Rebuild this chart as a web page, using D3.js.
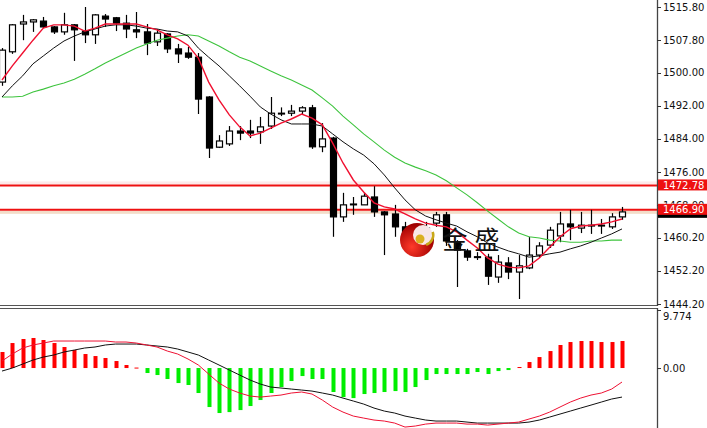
<!DOCTYPE html>
<html><head><meta charset="utf-8">
<script src="https://cdn.jsdelivr.net/npm/d3@7"></script>
<style>
body{margin:0;background:#fff;}
svg{display:block;}
text{font-family:"DejaVu Sans",sans-serif;font-size:10px;}
</style>
</head><body>
<svg id="c" width="707" height="428"></svg>
<script>
// ---- data ----
const open=[1497.7,1505.0,1511.7,1512.2,1512.4,1511.0,1509.8,1511.5,1510.0,1509.1,
1513.6,1513.2,1511.9,1510.3,1509.8,1507.4,1509.3,1505.7,1504.7,1503.7,
1494.1,1482.0,1482.8,1485.9,1485.9,1485.7,1487.1,1490.2,1490.2,1490.7,
1491.5,1482.1,1484.2,1465.2,1468.1,1468.1,1470.0,1466.4,1465.9,1462.8,
1459.6,1462.5,1463.7,1465.7,1459.1,1457.0,1455.6,1455.5,1450.7,1454.1,
1451.9,1452.9,1456.0,1458.4,1460.6,1463.5,1462.5,1463.2,1463.2,1462.8,1465.2];
const high=[1505.9,1511.7,1513.9,1512.9,1513.4,1511.2,1514.4,1511.7,1515.8,1514.1,
1514.1,1513.4,1513.9,1514.6,1511.7,1510.5,1509.5,1506.9,1506.2,1504.7,
1494.3,1484.9,1487.1,1487.1,1488.6,1489.3,1494.1,1491.6,1492.2,1491.9,
1492.2,1487.8,1484.5,1471.0,1470.0,1471.0,1472.6,1466.6,1468.1,1464.0,
1463.0,1464.0,1466.4,1466.4,1459.6,1457.5,1456.7,1456.3,1456.0,1455.5,
1456.0,1460.4,1459.1,1462.8,1466.4,1466.9,1466.4,1466.9,1464.7,1466.1,1467.6];
const low=[1496.8,1504.5,1507.8,1509.8,1510.7,1509.3,1509.1,1502.8,1507.1,1506.9,
1511.0,1510.0,1508.3,1508.3,1504.2,1506.4,1504.7,1502.3,1503.3,1490.0,
1479.4,1481.8,1482.3,1483.7,1484.2,1482.8,1486.4,1489.5,1489.5,1490.0,
1481.6,1480.8,1460.4,1464.0,1465.7,1468.1,1465.2,1456.0,1460.4,1459.6,
1458.9,1460.6,1462.8,1458.2,1448.3,1454.6,1454.8,1448.8,1449.3,1450.2,
1445.4,1452.6,1455.3,1457.7,1459.1,1459.6,1461.3,1461.1,1461.1,1462.3,1464.5];
const close=[1505.4,1511.5,1512.2,1512.7,1511.0,1509.8,1511.5,1510.3,1509.1,1513.9,
1512.9,1511.9,1510.5,1509.8,1507.1,1509.5,1505.7,1504.5,1503.7,1493.6,
1481.8,1483.5,1485.9,1485.4,1485.4,1486.9,1490.2,1490.0,1490.7,1491.5,
1482.1,1484.0,1465.2,1468.1,1468.3,1470.2,1466.4,1465.7,1462.8,1460.8,
1462.5,1461.5,1465.7,1459.4,1457.2,1455.5,1455.4,1450.9,1454.3,1451.9,
1453.4,1456.0,1458.2,1462.0,1463.5,1462.8,1463.2,1463.0,1463.0,1465.2,1466.4];

const maFast=[1498.2,1501.6,1504.7,1507.8,1510.7,1511.5,1511.5,1511.2,1510.0,1510.7,
1511.7,1511.7,1511.7,1511.7,1511.0,1510.3,1509.1,1508.1,1506.6,1503.5,
1497.7,1493.4,1489.8,1486.9,1484.7,1485.4,1486.6,1487.8,1488.8,1490.0,
1489.0,1487.4,1483.0,1478.2,1474.1,1471.2,1468.6,1467.6,1467.1,1465.9,
1464.7,1463.7,1463.2,1462.8,1461.6,1459.6,1457.7,1455.3,1453.8,1453.1,
1452.9,1453.4,1455.3,1457.9,1460.4,1462.3,1463.0,1463.2,1463.5,1464.0,1464.7];
const maMid=[1494.1,1496.8,1499.2,1502.1,1504.0,1505.9,1507.6,1508.8,1509.8,1510.5,
1511.2,1511.5,1511.5,1511.2,1510.7,1510.5,1510.0,1509.8,1508.8,1505.9,
1503.7,1501.6,1499.2,1496.8,1494.3,1491.7,1490.0,1488.6,1487.6,1487.6,
1487.6,1487.1,1485.2,1483.3,1481.6,1480.1,1478.0,1475.3,1472.2,1469.3,
1466.9,1465.4,1464.5,1463.7,1463.0,1461.6,1460.4,1458.9,1457.9,1457.0,
1456.3,1455.5,1455.8,1456.3,1456.7,1457.5,1458.2,1459.1,1460.1,1461.1,1462.3];
const maSlow=[1494.1,1494.1,1494.3,1495.3,1496.0,1496.8,1497.5,1498.4,1499.6,1500.9,
1502.3,1503.5,1504.7,1505.9,1506.9,1507.8,1508.3,1508.8,1509.1,1508.8,
1507.6,1506.4,1505.0,1503.7,1502.8,1501.6,1500.4,1499.2,1498.2,1497.0,
1495.8,1493.9,1491.9,1489.5,1487.4,1485.2,1483.3,1481.3,1479.6,1478.2,
1477.2,1476.3,1475.3,1473.9,1472.2,1470.5,1468.6,1466.6,1464.7,1462.8,
1461.3,1460.4,1460.1,1459.6,1459.4,1459.1,1459.1,1459.4,1459.4,1459.6,1459.6];

const macdHist=[2.70,4.21,4.89,5.06,4.72,4.21,3.54,3.03,2.36,2.02,
1.69,1.18,0.51,0.08,-0.84,-1.18,-1.85,-2.53,-2.86,-4.21,
-6.57,-7.58,-7.42,-7.08,-6.40,-5.39,-4.21,-3.20,-2.19,-1.35,
-1.85,-1.85,-4.04,-4.89,-5.06,-4.38,-4.21,-4.04,-3.88,-4.04,
-3.20,-2.02,-1.01,-1.01,-1.01,-1.01,-0.67,-1.01,-0.51,-0.34,
0.17,1.01,1.85,2.86,3.88,4.38,4.55,4.55,4.38,4.38,4.55];
const macdMain=[-0.51,0,0.67,1.35,1.85,2.19,2.70,3.03,3.37,3.54,
3.88,4.04,4.04,4.04,3.88,3.71,3.54,3.20,2.70,2.19,
1.35,0.51,-0.34,-1.18,-2.02,-2.70,-3.20,-3.37,-3.54,-3.71,
-3.88,-4.21,-4.55,-5.06,-5.56,-6.07,-6.74,-7.25,-7.58,-8.09,
-8.43,-8.76,-8.93,-8.93,-8.93,-9.10,-9.27,-9.27,-9.27,-9.27,
-9.27,-9.10,-8.76,-8.26,-7.75,-7.25,-6.74,-6.24,-5.73,-5.22,-4.89];
const macdSignal=[1.18,2.36,3.37,3.88,4.21,4.55,4.55,4.55,4.55,4.55,
4.55,4.38,4.38,4.21,3.88,3.54,2.86,2.36,1.52,0.51,
-1.01,-2.53,-3.54,-4.21,-4.72,-4.89,-4.72,-4.55,-4.21,-4.04,
-4.38,-5.39,-6.57,-7.42,-8.09,-8.43,-8.76,-8.93,-9.27,-9.94,
-9.77,-9.44,-9.27,-9.27,-9.27,-9.44,-9.44,-9.61,-9.44,-9.27,
-9.10,-8.59,-8.09,-7.42,-6.57,-5.73,-5.06,-4.55,-4.21,-3.54,-2.36];

const priceTicks=[1515.80,1507.80,1500.00,1492.00,1484.00,1476.00,1468.00,1460.20,1452.20,1444.20];
const macdTicks=[9.774,0.00];
const levels=[1472.78,1466.90];
const watermark=["金","盛"];

// ---- layout ----
const svg=d3.select("#c");
const plotR=657;
const idx=open.map((d,i)=>i);
const x=d3.scaleLinear().domain([0,open.length-1]).range([2,622]);
const y=d3.scaleLinear().domain([1444.2,1515.8]).range([304,7]);
const ym=d3.scaleLinear().domain([-10.1,9.774]).range([428,310]);

const defs=svg.append("defs");
defs.append("clipPath").attr("id","cm").append("rect").attr("x",0).attr("y",0).attr("width",plotR).attr("height",305);
defs.append("clipPath").attr("id","cd").append("rect").attr("x",0).attr("y",309).attr("width",plotR).attr("height",119);
defs.append("clipPath").attr("id","ct").append("rect").attr("x",plotR+1).attr("y",0).attr("width",50).attr("height",y(levels[1])-6);
const rg=defs.append("radialGradient").attr("id","lg").attr("cx","35%").attr("cy","70%").attr("r","65%");
rg.append("stop").attr("offset","0%").attr("stop-color","#ff3a2a");
rg.append("stop").attr("offset","100%").attr("stop-color","#a00000");

const main=svg.append("g").attr("clip-path","url(#cm)");

// level lines
levels.forEach((lv,k)=>{
  const yy=y(lv);
  main.append("rect").attr("x",0).attr("width",plotR)
    .attr("y",k===0?yy-4:yy+1).attr("height",3)
    .attr("fill",k===0?"#fdeaea":"#f3ddc9");
  main.append("line").attr("x1",0).attr("x2",plotR).attr("y1",yy).attr("y2",yy)
    .attr("stroke","#ee1111").attr("stroke-width",2);
});

// candles
const cg=main.append("g");
cg.selectAll("line.w").data(idx).join("line").attr("class","w")
  .attr("x1",i=>Math.round(x(i))+0.5).attr("x2",i=>Math.round(x(i))+0.5)
  .attr("y1",i=>y(high[i])).attr("y2",i=>y(low[i]))
  .attr("stroke","#000").attr("stroke-width",1.2);
cg.selectAll("rect.b").data(idx).join("rect").attr("class","b")
  .attr("x",i=>Math.round(x(i))-2.5).attr("width",6)
  .attr("y",i=>y(Math.max(open[i],close[i])))
  .attr("height",i=>Math.max(0.6,Math.abs(y(open[i])-y(close[i]))))
  .attr("fill",i=>close[i]>=open[i]?"#fff":"#000")
  .attr("stroke","#000").attr("stroke-width",1.2);

// moving averages
const ln=arr=>d3.line().x((d,i)=>x(i)).y(d=>y(d))(arr);
main.append("path").attr("d",ln(maSlow)).attr("fill","none").attr("stroke","#3ec43e").attr("stroke-width",1.1);
main.append("path").attr("d",ln(maMid)).attr("fill","none").attr("stroke","#111").attr("stroke-width",1);
main.append("path").attr("d",ln(maFast)).attr("fill","none").attr("stroke","#f01030").attr("stroke-width",1.4);

// watermark logo
const lgG=main.append("g").attr("transform","translate(417,240)");
lgG.append("circle").attr("r",17).attr("fill","url(#lg)");
lgG.append("circle").attr("cx",6).attr("cy",-5).attr("r",10).attr("fill","#fff").attr("opacity",0.9);
lgG.append("circle").attr("cx",3).attr("cy",-1).attr("r",4.5).attr("fill","#d9b020");
lgG.append("path").attr("d",d3.arc()({innerRadius:9,outerRadius:11.5,startAngle:Math.PI*0.4,endAngle:Math.PI*0.9}))
  .attr("transform","translate(6,-5)").attr("fill","#c8a818");
main.selectAll("text.wm").data(watermark).join("text").attr("class","wm")
  .attr("x",(d,i)=>455+i*32).attr("y",249).attr("text-anchor","middle")
  .style("font-family","'Noto Sans CJK SC',sans-serif").style("font-size","25px")
  .attr("fill","#111").text(d=>d);

// MACD panel
const sub=svg.append("g").attr("clip-path","url(#cd)");
sub.selectAll("rect.h").data(idx).join("rect").attr("class","h")
  .attr("x",i=>Math.round(x(i))-1.5).attr("width",4)
  .attr("y",i=>Math.min(ym(0),ym(macdHist[i])))
  .attr("height",i=>Math.max(1,Math.abs(ym(macdHist[i])-ym(0))))
  .attr("fill",i=>macdHist[i]>=0?"#ff0000":"#00ee00");
const lm=arr=>d3.line().x((d,i)=>x(i)).y(d=>ym(d))(arr);
sub.append("path").attr("d",lm(macdMain)).attr("fill","none").attr("stroke","#111").attr("stroke-width",1);
sub.append("path").attr("d",lm(macdSignal)).attr("fill","none").attr("stroke","#ee1133").attr("stroke-width",1);

// frames
svg.append("line").attr("x1",0).attr("x2",plotR).attr("y1",305.5).attr("y2",305.5).attr("stroke","#555").attr("stroke-width",1.2);
svg.append("line").attr("x1",0).attr("x2",plotR).attr("y1",308.5).attr("y2",308.5).attr("stroke","#555").attr("stroke-width",1.2);
svg.append("line").attr("x1",plotR+0.5).attr("x2",plotR+0.5).attr("y1",0).attr("y2",306).attr("stroke","#444").attr("stroke-width",1.3);
svg.append("line").attr("x1",plotR+0.5).attr("x2",plotR+0.5).attr("y1",308).attr("y2",428).attr("stroke","#444").attr("stroke-width",1.3);

// price axis
const pa=svg.append("g");
pa.selectAll("line").data(priceTicks).join("line")
  .attr("x1",plotR).attr("x2",plotR+4).attr("y1",d=>Math.round(y(d))+0.5).attr("y2",d=>Math.round(y(d))+0.5)
  .attr("stroke","#333");
// the 1468.00 label sits behind the level tag, only its top shows
pa.selectAll("text").data(priceTicks).join("text")
  .attr("x",663).attr("y",d=>y(d)).attr("dy","0.35em").attr("fill","#111")
  .attr("clip-path",d=>d===1468?"url(#ct)":null)
  .text(d=>d3.format(".2f")(d));

// MACD axis
const ma=svg.append("g");
ma.selectAll("line").data(macdTicks).join("line")
  .attr("x1",plotR).attr("x2",plotR+4).attr("y1",d=>d===0?ym(d)+0.5:310.5).attr("y2",d=>d===0?ym(d)+0.5:310.5)
  .attr("stroke","#333");
ma.selectAll("text").data(macdTicks).join("text")
  .attr("x",663).attr("y",d=>d===0?ym(d):316).attr("dy","0.35em").attr("fill","#111")
  .text(d=>d===0?d3.format(".2f")(d):d3.format(".3f")(d));

// level labels
svg.append("rect").attr("x",plotR+1).attr("y",y(levels[1])-2).attr("width",50).attr("height",10).attr("fill","#000");
levels.forEach(lv=>{
  svg.append("rect").attr("x",plotR+1).attr("y",y(lv)-6).attr("width",50).attr("height",11).attr("fill","#ee1111");
  svg.append("text").attr("x",663).attr("y",y(lv)).attr("dy","0.35em").attr("fill","#fff").text(d3.format(".2f")(lv));
});
</script>
</body></html>
